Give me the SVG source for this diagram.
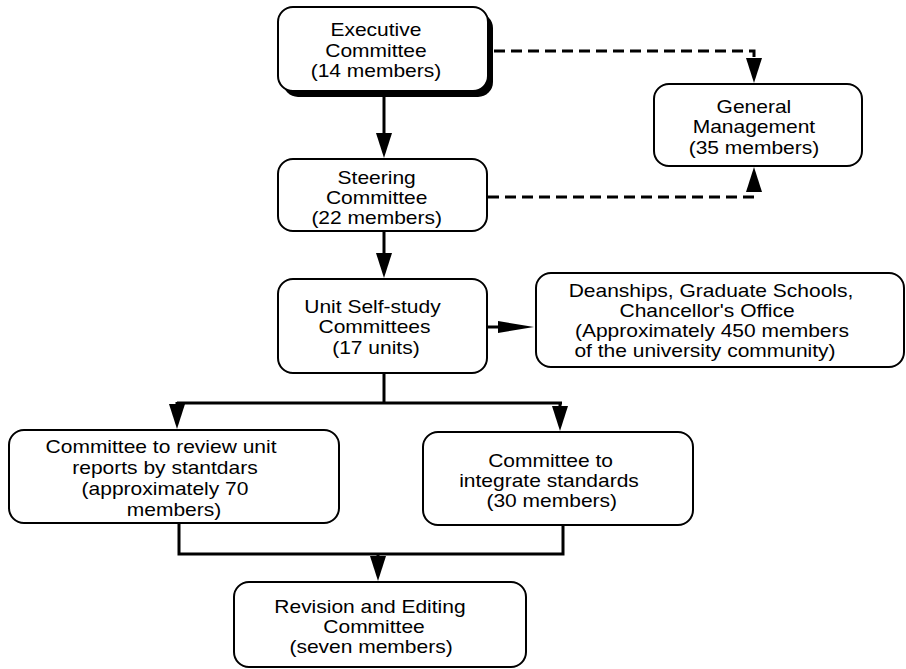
<svg xmlns="http://www.w3.org/2000/svg" width="906" height="669" viewBox="0 0 906 669">
<style>
.box{fill:#fff;stroke:#000;stroke-width:2}
.shadow{fill:#000;stroke:none}
.lbl{font-family:"Liberation Sans",Arial,Helvetica,sans-serif;font-size:17.5px;fill:#000;text-anchor:middle}
.ln{fill:none;stroke:#000;stroke-width:3}
.dash{fill:none;stroke:#000;stroke-width:3;stroke-dasharray:11 6}
</style>
<defs>
<marker id="ah" markerUnits="userSpaceOnUse" markerWidth="30" markerHeight="20" refX="0" refY="8" orient="auto">
<path d="M0,0 L25,8 L0,16 Z" fill="#000"/>
</marker>
<marker id="ah2" markerUnits="userSpaceOnUse" markerWidth="40" markerHeight="14" refX="0" refY="6" orient="auto">
<path d="M0,0 L36,6 L0,12 Z" fill="#000"/>
</marker>
</defs>
<g id="connectors">
<path class="ln" d="M384,92 V133" marker-end="url(#ah)"/>
<path class="dash" d="M494,51 H754 V58" marker-end="url(#ah)"/>
<path class="dash" d="M488,197 H754 V192" marker-end="url(#ah)"/>
<path class="ln" d="M384,232 V253" marker-end="url(#ah)"/>
<path class="ln" d="M488,327 H498" marker-end="url(#ah2)"/>
<path class="ln" d="M384,374 V403"/>
<path class="ln" d="M177,403 H562"/>
<path class="ln" d="M177,402 V404" marker-end="url(#ah)"/>
<path class="ln" d="M560,402 V406" marker-end="url(#ah)"/>
<path class="ln" d="M179,524 V554 H563 V526"/>
<path class="ln" d="M378,553 V556" marker-end="url(#ah)"/>
</g>
<g id="executive">
<rect class="shadow" x="283" y="13" width="210" height="84" rx="15"/>
<rect class="box" x="278" y="7" width="210" height="84" rx="15"/>
<text class="lbl" transform="scale(1.2,1)"><tspan x="313.3" y="36.5">Executive</tspan><tspan x="313.3" y="57">Committee</tspan><tspan x="313.3" y="77.5">(14 members)</tspan></text>
</g>
<g id="general">
<rect class="box" x="654" y="84" width="208" height="82" rx="15"/>
<text class="lbl" transform="scale(1.2,1)"><tspan x="628.3" y="113">General</tspan><tspan x="628.3" y="133.5">Management</tspan><tspan x="628.3" y="154">(35 members)</tspan></text>
</g>
<g id="steering">
<rect class="box" x="278" y="159" width="209" height="72" rx="15"/>
<text class="lbl" transform="scale(1.2,1)"><tspan x="313.9" y="184.5">Steering</tspan><tspan x="313.9" y="204.5">Committee</tspan><tspan x="313.9" y="224.5">(22 members)</tspan></text>
</g>
<g id="unit">
<rect class="box" x="278" y="279" width="209" height="94" rx="15"/>
<text class="lbl" transform="scale(1.2,1)"><tspan x="310.4" y="313">Unit Self-study</tspan><tspan x="312.1" y="333.5">Committees</tspan><tspan x="313.3" y="354">(17 units)</tspan></text>
</g>
<g id="deanships">
<rect class="box" x="536" y="273" width="368" height="94" rx="15"/>
<text class="lbl" transform="scale(1.2,1)"><tspan x="592.5" y="297">Deanships, Graduate Schools,</tspan><tspan x="589.2" y="317">Chancellor's Office</tspan><tspan x="593.3" y="337">(Approximately 450 members</tspan><tspan x="587.5" y="357">of the university community)</tspan></text>
</g>
<g id="review">
<rect class="box" x="9" y="430" width="330" height="93" rx="15"/>
<text class="lbl" transform="scale(1.2,1)"><tspan x="134.2" y="453.5">Committee to review unit</tspan><tspan x="137.5" y="474.5">reports by stantdars</tspan><tspan x="137.5" y="495">(approximately 70</tspan><tspan x="145" y="516">members)</tspan></text>
</g>
<g id="integrate">
<rect class="box" x="423" y="432" width="270" height="93" rx="15"/>
<text class="lbl" transform="scale(1.2,1)"><tspan x="458.8" y="467">Committee to</tspan><tspan x="457.5" y="487">integrate standards</tspan><tspan x="459.8" y="507">(30 members)</tspan></text>
</g>
<g id="revision">
<rect class="box" x="234" y="582" width="292" height="85" rx="15"/>
<text class="lbl" transform="scale(1.2,1)"><tspan x="308.3" y="613">Revision and Editing</tspan><tspan x="311.7" y="633">Committee</tspan><tspan x="309.2" y="653">(seven members)</tspan></text>
</g>
</svg>
